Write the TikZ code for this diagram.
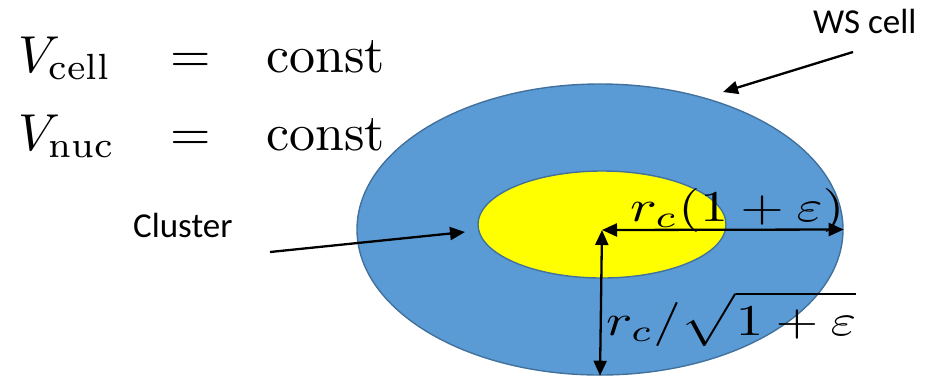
\documentclass[tikz,border=0pt]{standalone}
\usepackage{amsmath,amssymb}
\usepackage{fontspec}
\newfontfamily\calibri{Carlito}
\usepackage{tikz}
\usetikzlibrary{
  arrows.meta,
  positioning,
  shapes.geometric
}
\definecolor{cellblue}{RGB}{91,155,213}
\definecolor{celledge}{RGB}{65,113,156}
\definecolor{clusteryellow}{RGB}{255,255,0}

\begin{document}
\begin{tikzpicture}[
  x=1pt,y=-1pt,
  region/.style={draw=celledge,line width=1.4pt,ellipse,inner sep=0pt},
  caption/.style={inner sep=0pt,anchor=base west,font=\calibri\fontsize{35}{42}\selectfont},
  formula/.style={inner sep=0pt,anchor=base west},
  pointer/.style={-{Triangle[length=15pt,width=13pt]},line width=2.3pt},
  span/.style={{Triangle[length=15pt,width=13pt]}-{Triangle[length=15pt,width=13pt]},line width=2.3pt},
]
\useasboundingbox (0,0) rectangle (936,376);

% Wigner-Seitz cell and cluster
\node[region,fill=cellblue,minimum width=486pt,minimum height=291pt] (cell) at (600,229.5) {};
\node[region,fill=clusteryellow,minimum width=248pt,minimum height=107pt] (cluster) at (602,224.5) {};
\coordinate (centre) at (602,230);

% radii
\draw[span] (centre) -- (cell.east);
\draw[span] (centre) -- (cell.south);
\node[formula] (rlong)  at (630,221) {\scalebox{5.6}[4.4]{$r_c(1+\varepsilon)$}};
\node[formula] (rshort) at (606,335) {\scalebox{5.5}[4.4]{$\displaystyle r_c/\sqrt{\mathstrut 1+\varepsilon}$}};

% constraints
\node[formula,font=\fontsize{10}{15}\selectfont] (constr) at (18,72)
  {\scalebox{5.2}{$\begin{array}[t]{@{}l@{\hspace{10.6pt}}c@{\hspace{10.6pt}}l@{}}
     V_{\mathrm{cell}} & = & \mathrm{const}\\
     V_{\mathrm{nuc}}  & = & \mathrm{const}
   \end{array}$}};

% labels
\node[caption] (lcluster) at (133,237) {Cluster};
\node[caption] (lcell)    at (813,33)  {WS cell};
\coordinate (clustertail) at (270,252);
\coordinate (clusterhead) at (465,232);
\coordinate (celltail) at (853,52);
\coordinate (cellhead) at (723,92);
\draw[pointer] (clustertail) -- (clusterhead);
\draw[pointer] (celltail) -- (cellhead);
\end{tikzpicture}
\end{document}
